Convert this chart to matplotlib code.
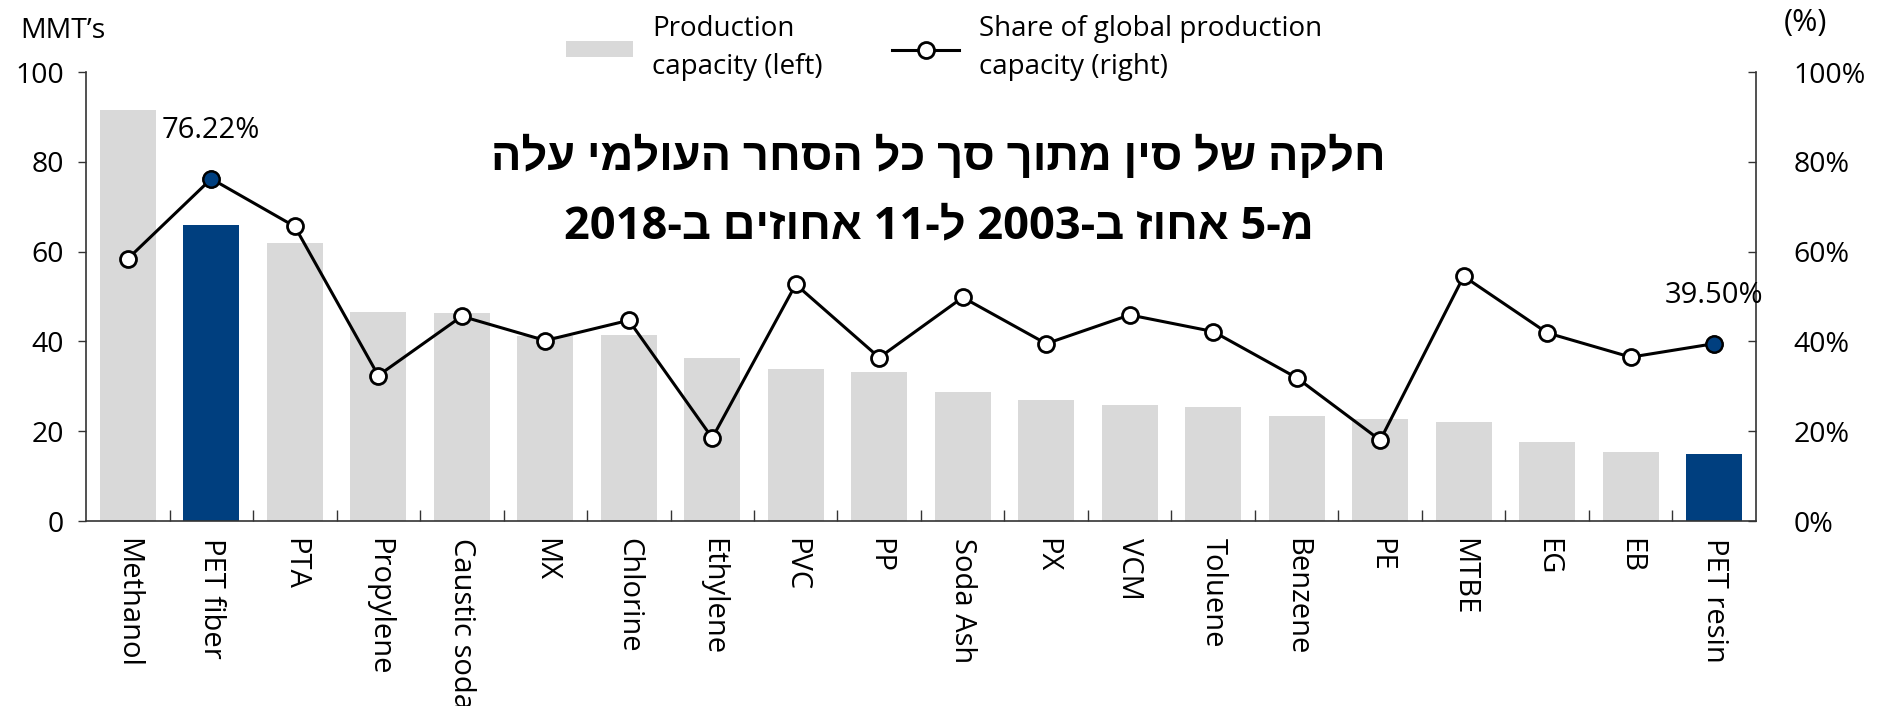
import re
import numpy as np
import matplotlib
matplotlib.use("Agg")
import matplotlib.pyplot as plt
from matplotlib.lines import Line2D
from matplotlib.patches import Patch
from matplotlib.ticker import FixedLocator, FuncFormatter

categories = ["Methanol", "PET fiber", "PTA", "Propylene", "Caustic soda", "MX",
              "Chlorine", "Ethylene", "PVC", "PP", "Soda Ash", "PX", "VCM",
              "Toluene", "Benzene", "PE", "MTBE", "EG", "EB", "PET resin"]
capacity = [91.5, 65.9, 61.9, 46.6, 46.3, 41.3, 41.4, 36.2, 33.9, 33.1,
            28.7, 27.0, 25.9, 25.5, 23.3, 22.7, 22.0, 17.7, 15.4, 14.9]
share = [58.4, 76.22, 65.6, 32.4, 45.6, 40.2, 44.7, 18.5, 52.7, 36.4,
         49.8, 39.5, 45.9, 42.2, 31.9, 18.0, 54.5, 41.9, 36.5, 39.50]
highlight = ["PET fiber", "PET resin"]
left_ticks = [0, 20, 40, 60, 80, 100]
right_ticks = [0, 20, 40, 60, 80, 100]
title_lines = ["חלקה של סין מתוך סך כל הסחר העולמי עלה",
               "מ-5 אחוז ב-2003 ל-11 אחוזים ב-2018"]
legend_labels = ["Production\ncapacity (left)", "Share of global production\ncapacity (right)"]

GREY = "#d9d9d9"
BLUE = "#003f7f"
NUMFONT = ["Open Sans", "DejaVu Sans"]
CATFONT = ["Open Sans", "DejaVu Sans"]
HEBFONT = ["Open Sans", "Liberation Sans", "DejaVu Sans"]


def visual_rtl(s):
    r = s[::-1]
    return re.sub(r"\d+", lambda m: m.group(0)[::-1], r)


fig = plt.figure(figsize=(18.79, 7.06), dpi=100)
ax = fig.add_axes([0.0458, 0.262, 0.8887, 0.636])
x = np.arange(len(categories))
bar_colors = [BLUE if c in highlight else GREY for c in categories]
ax.bar(x, capacity, width=0.67, color=bar_colors, zorder=1)
ax.set_xlim(-0.5, len(categories) - 0.5)
ax.set_ylim(0, 100)

ax2 = ax.twinx()
ax2.set_ylim(0, 100)
ax2.plot(x, share, color="black", lw=2.2, marker="o", ms=11.5,
         mfc="white", mec="black", mew=2.0, zorder=3)
hi_idx = [i for i, c in enumerate(categories) if c in highlight]
ax2.plot(x[hi_idx], [share[i] for i in hi_idx], ls="none", marker="o", ms=11.5,
         mfc=BLUE, mec="black", mew=1.5, zorder=4)
for i in hi_idx:
    ax2.annotate(f"{share[i]:.2f}%", (x[i], share[i]), xytext=(0, 35),
                 textcoords="offset points", ha="center", va="center",
                 fontsize=21, family=NUMFONT)

# spines
for a in (ax, ax2):
    a.spines["top"].set_visible(False)
    for s in a.spines.values():
        s.set_color("#333333")
        s.set_linewidth(1.2)
ax.spines["right"].set_visible(False)
ax2.spines["left"].set_visible(False)
ax2.spines["bottom"].set_visible(False)

# left axis
ax.yaxis.set_major_locator(FixedLocator(left_ticks))
ax.tick_params(axis="y", direction="out", length=6, width=1, color="#333333",
               labelsize=20.5, pad=10)
for t in ax.get_yticklabels():
    t.set_family(NUMFONT)

# right axis
ax2.yaxis.set_major_locator(FixedLocator(right_ticks))
ax2.yaxis.set_major_formatter(FuncFormatter(lambda v, p: f"{v:.0f}%"))
ax2.tick_params(axis="y", direction="in", length=6, width=1, color="#333333",
                labelsize=20.5, pad=27)
for t in ax2.get_yticklabels():
    t.set_family(NUMFONT)

# x axis
ax.set_xticks(x)
ax.set_xticklabels(categories, rotation=270, ha="center", va="top",
                   fontsize=21, family=CATFONT)
ax.tick_params(axis="x", which="major", length=0, pad=12)
ax.set_xticks(x[:-1] + 0.5, minor=True)
ax.tick_params(axis="x", which="minor", direction="in", length=8, width=1,
               color="#333333")

# axis unit labels
fig.text(0.0106, 0.946, "MMT’s", fontsize=20.5, family=NUMFONT, ha="left", va="baseline")
fig.text(0.961, 0.968, "(%)", fontsize=22, family=NUMFONT, ha="center", va="center")

# legend
handles = [Patch(facecolor=GREY, edgecolor="none"),
           Line2D([], [], color="black", lw=2.2, marker="o", ms=11.5,
                  mfc="white", mec="black", mew=2.0)]
leg = fig.legend(handles, legend_labels, loc="center", bbox_to_anchor=(0.5024, 0.932),
                 ncol=2, frameon=False, prop={"family": NUMFONT, "size": 20},
                 handlelength=2.4, handleheight=0.5, handletextpad=0.7,
                 columnspacing=2.5, numpoints=1)
for t in leg.get_texts():
    t.set_linespacing(1.45)

# Hebrew headline, sized so the first line spans about the reference width
t1 = fig.text(0.4995, 0.776, visual_rtl(title_lines[0]), fontsize=35, fontweight="bold",
              family=HEBFONT, ha="center", va="center")
t2 = fig.text(0.4995, 0.678, visual_rtl(title_lines[1]), fontsize=35, fontweight="bold",
              family=HEBFONT, ha="center", va="center")
renderer = fig.canvas.get_renderer()
w = t1.get_window_extent(renderer).width
size = 35 * 895.0 / w
t1.set_fontsize(size)
t2.set_fontsize(size)

fig.savefig("out.png", dpi=100)
